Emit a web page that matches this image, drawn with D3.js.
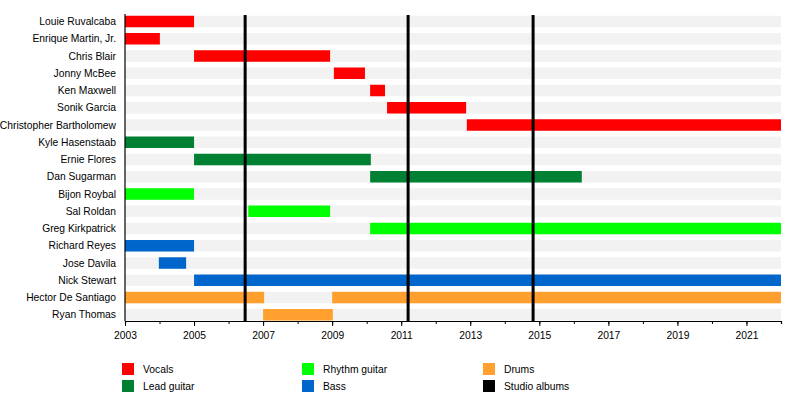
<!DOCTYPE html>
<html><head><meta charset="utf-8">
<script src="https://cdn.jsdelivr.net/npm/d3@7"></script>
<style>body{margin:0;background:#fff}svg{display:block}text{font-family:"Liberation Sans",Arial,sans-serif}</style>
</head><body><svg id="c" width="800" height="401"></svg>
<script>
const members = ["Louie Ruvalcaba","Enrique Martin, Jr.","Chris Blair","Jonny McBee","Ken Maxwell","Sonik Garcia","Christopher Bartholomew","Kyle Hasenstaab","Ernie Flores","Dan Sugarman","Bijon Roybal","Sal Roldan","Greg Kirkpatrick","Richard Reyes","Jose Davila","Nick Stewart","Hector De Santiago","Ryan Thomas"];
const roles = ["Vocals","Lead guitar","Rhythm guitar","Bass","Drums","Studio albums"];
const roleColors = ["#ff0000","#008033","#00ff00","#0066cc","#ffa02e","#000000"];
const barMember = ["Louie Ruvalcaba","Enrique Martin, Jr.","Chris Blair","Jonny McBee","Ken Maxwell","Sonik Garcia","Christopher Bartholomew","Kyle Hasenstaab","Ernie Flores","Dan Sugarman","Bijon Roybal","Sal Roldan","Greg Kirkpatrick","Richard Reyes","Jose Davila","Nick Stewart","Hector De Santiago","Hector De Santiago","Ryan Thomas"];
const barRole = ["Vocals","Vocals","Vocals","Vocals","Vocals","Vocals","Vocals","Lead guitar","Lead guitar","Lead guitar","Rhythm guitar","Rhythm guitar","Rhythm guitar","Bass","Bass","Bass","Drums","Drums","Drums"];
const barStart = [2003,2003,2005,2009.05,2010.1,2010.59,2012.9,2003,2005,2010.1,2003,2006.57,2010.1,2003,2003.98,2005,2003,2009.0,2007.0];
const barEnd = [2005,2004.01,2008.94,2009.95,2010.53,2012.88,2022,2005,2010.12,2016.23,2005,2008.94,2022,2005,2004.77,2022,2007.03,2022,2009.02];
const albums = [2006.48,2011.2,2014.82];
const yearTicks = [2003,2004,2005,2006,2007,2008,2009,2010,2011,2012,2013,2014,2015,2016,2017,2018,2019,2020,2021,2022];
const labelTicks = [2003,2005,2007,2009,2011,2013,2015,2017,2019,2021];
const startYear = 2003, endYear = 2022;

const svg = d3.select("#c");
const fs = "10.3px";
const x = d3.scaleLinear().domain([startYear,endYear]).range([125,781]);
const y = d3.scaleBand().domain(members).range([12.875,323.4]).padding(0);
const color = d3.scaleOrdinal().domain(roles).range(roleColors);
const bh = 11.5;
const axisY = 321;

// background rows
svg.append("g").selectAll("rect").data(members).join("rect")
  .attr("x",x(startYear)).attr("width",x(endYear)-x(startYear))
  .attr("y",d=>y(d)+y.bandwidth()/2-bh/2).attr("height",bh)
  .attr("fill","#f2f2f2");

// bars
const bars = barMember.map((m,i)=>({m,r:barRole[i],s:barStart[i],e:barEnd[i]}));
svg.append("g").selectAll("rect").data(bars).join("rect")
  .attr("x",d=>x(d.s)).attr("width",d=>x(d.e)-x(d.s))
  .attr("y",d=>y(d.m)+y.bandwidth()/2-bh/2).attr("height",bh)
  .attr("fill",d=>color(d.r));

// album lines
svg.append("g").selectAll("line").data(albums).join("line")
  .attr("x1",d=>x(d)).attr("x2",d=>x(d)).attr("y1",15).attr("y2",axisY)
  .attr("stroke","#000").attr("stroke-width",3);

// left axis line
svg.append("line").attr("x1",x(startYear)).attr("x2",x(startYear)).attr("y1",14).attr("y2",axisY)
  .attr("stroke","#000").attr("stroke-width",1.2);

// member labels
svg.append("g").selectAll("text").data(members).join("text")
  .attr("x",116).attr("y",d=>y(d)+y.bandwidth()/2).attr("dy","0.35em")
  .attr("text-anchor","end").attr("font-size",fs).attr("fill","#000").text(d=>d);

// minor axis
const gMinor = svg.append("g").attr("transform",`translate(0,${axisY})`)
  .call(d3.axisBottom(x).tickValues(yearTicks).tickSize(3).tickFormat(""));
gMinor.select(".domain").attr("stroke","#000").attr("stroke-width",1.2);
gMinor.selectAll(".tick line").attr("stroke","#000");
// major axis
const gMajor = svg.append("g").attr("transform",`translate(0,${axisY})`)
  .call(d3.axisBottom(x).tickValues(labelTicks).tickSize(5).tickPadding(6).tickFormat(d3.format("d")));
gMajor.select(".domain").remove();
gMajor.selectAll(".tick line").attr("stroke","#000");
gMajor.selectAll(".tick text").attr("font-size",fs).attr("fill","#000").style("font-family",'"Liberation Sans",Arial,sans-serif');

// legend
const legCols = [122,302,483];
const legRows = [363,380];
const legOrder = ["Vocals","Lead guitar","Rhythm guitar","Bass","Drums","Studio albums"];
const leg = svg.append("g").selectAll("g").data(legOrder).join("g")
  .attr("transform",(d,i)=>`translate(${legCols[Math.floor(i/2)]},${legRows[i%2]})`);
leg.append("rect").attr("width",12).attr("height",12).attr("fill",d=>color(d));
leg.append("text").attr("x",21).attr("y",6).attr("dy","0.35em").attr("font-size",fs).attr("fill","#000").text(d=>d);
</script></body></html>
